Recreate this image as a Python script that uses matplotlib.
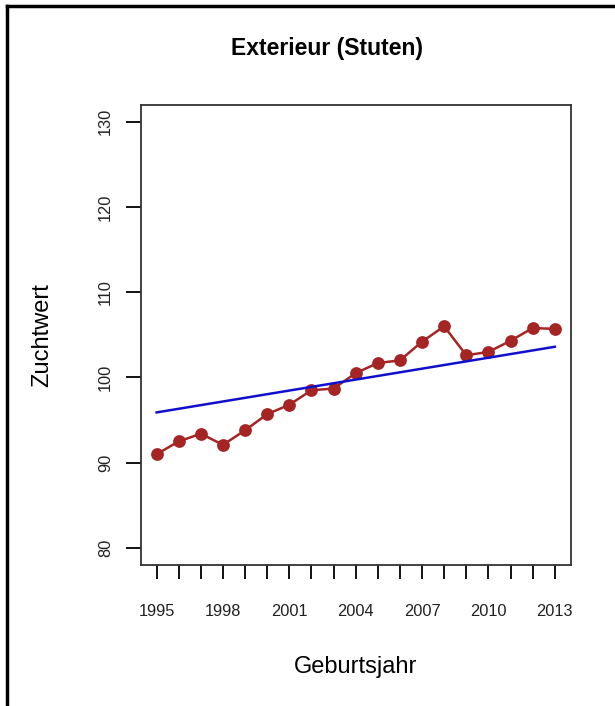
import matplotlib
matplotlib.use("Agg")
import matplotlib.pyplot as plt
from matplotlib.lines import Line2D

years = [1995, 1996, 1997, 1998, 1999, 2000, 2001, 2002, 2003, 2004,
         2005, 2006, 2007, 2008, 2009, 2010, 2011, 2012, 2013]
zuchtwert = [91.0, 92.5, 93.4, 92.1, 93.8, 95.7, 96.8, 98.5, 98.7, 100.5,
             101.7, 102.0, 104.2, 106.0, 102.6, 103.0, 104.3, 105.8, 105.7]
trend_years = [1995, 2013]
trend_values = [95.9, 103.6]
xtick_labels = ["1995", "1998", "2001", "2004", "2007", "2010", "2013"]
yticks = [80, 90, 100, 110, 120, 130]

plt.rcParams['font.family'] = ['Liberation Sans', 'DejaVu Sans']

W, H = 615, 706
fig = plt.figure(figsize=(W / 100, H / 100), dpi=100)
ax = fig.add_axes([140.7 / W, 141 / H, 430 / W, 460.3 / H])

ax.plot(years, zuchtwert, color='#A52424', lw=1.8, marker='o', ms=9.2,
        markeredgewidth=0, zorder=3)
ax.plot(trend_years, trend_values, color='#1010CC', lw=1.8, zorder=4)

ax.set_xlim(1994.28, 2013.72)
ax.set_ylim(78, 132)

ax.set_xticks(years)
ax.set_xticklabels([str(y) if str(y) in xtick_labels else "" for y in years],
                   fontsize=11.8, color='#222222')
ax.set_yticks(yticks)
ax.set_yticklabels([str(v) for v in yticks], rotation=90, va='center',
                   fontsize=11.8, color='#222222')
ax.tick_params(axis='x', length=10, width=1.4, pad=18, color='#111111')
ax.tick_params(axis='y', length=11, width=1.4, pad=9, color='#111111')

for s in ax.spines.values():
    s.set_linewidth(1.3)
    s.set_color('#333333')

ax.set_title("Exterieur (Stuten)", fontsize=16.5, fontweight='bold',
             x=(327 - 140.7) / 430, y=1.0, pad=35.5)
ax.set_xlabel("Geburtsjahr", fontsize=17, labelpad=27)
ax.set_ylabel("Zuchtwert", fontsize=17, labelpad=32)

# outer frame (left and top edges visible)
fig.add_artist(Line2D([7 / W, 7 / W], [0, 1 - 6 / H], transform=fig.transFigure,
                      color='black', lw=2.5))
fig.add_artist(Line2D([7 / W, 1], [1 - 6 / H, 1 - 6 / H], transform=fig.transFigure,
                      color='black', lw=2.5))

fig.savefig("out.png", dpi=100, facecolor='white')
